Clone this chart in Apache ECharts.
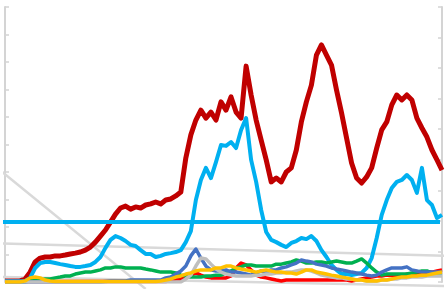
<!DOCTYPE html>
<html>
<head>
<meta charset="utf-8">
<title></title>
<style>
html,body{margin:0;padding:0;background:#fff;}
#chart{width:446px;height:289px;}
</style>
<script src="https://cdn.jsdelivr.net/npm/echarts@6/dist/echarts.min.js"></script>
</head>
<body>
<div id="chart"></div>
<script>
// 88 samples along the x axis
const days = Array.from({length: 88}, (_, i) => String(i));

const darkRed = [0.4,0.4,0.4,0.4,1.1,3.6,7.3,8.7,9.1,9.1,9.5,9.5,9.8,10.2,10.5,10.9,11.6,12.7,14.5,16.7,
  18.9,21.8,24.7,26.9,27.6,26.5,27.3,26.9,28.0,28.4,29.1,28.4,29.8,30.2,31.3,32.7,45.1,53.5,58.9,62.5,
  59.6,61.8,58.9,65.5,62.5,67.3,61.8,59.6,78.5,68.0,58.9,51.6,44.4,36.4,37.8,36.4,40.0,41.5,48.0,58.2,
  65.5,71.6,82.5,86.2,82.5,78.9,69.8,61.5,52.4,43.3,37.8,36.0,38.2,41.5,48.7,55.3,58.2,64.4,68.0,66.2,
  68.0,66.2,59.6,56.0,52.7,48.0,44.4,40.7];

const lightBlue = [0.4,0.4,0.4,0.4,0.4,1.5,5.1,6.9,7.3,7.3,6.9,6.5,6.2,5.8,5.5,5.5,5.8,6.2,7.3,9.1,
  12.4,15.3,16.7,16.0,14.9,13.5,13.1,11.6,10.2,10.2,9.1,9.5,10.2,10.5,10.9,11.6,14.5,18.5,29.8,37.1,
  41.5,37.8,43.6,49.8,49.5,50.9,48.7,55.3,59.6,44.4,36.4,26.2,18.2,15.3,14.5,13.5,12.7,14.2,14.9,16.0,
  15.6,16.7,14.9,11.6,9.1,6.2,4.4,2.9,2.9,2.5,2.9,3.3,5.1,8.7,16.0,24.4,29.8,34.2,36.4,37.1,
  38.9,37.1,32.4,41.5,29.8,28.0,23.3,24.4];

const green = [0,0,0,0,0,0.4,0.7,0.7,1.1,1.1,1.5,1.8,2.2,2.2,2.9,3.3,3.6,3.6,4.0,4.4,
  5.1,5.1,5.5,5.5,5.1,5.1,5.1,5.1,4.7,4.4,4.0,3.6,3.6,3.6,3.3,2.5,2.2,1.8,1.8,1.8,
  2.2,2.2,2.5,2.5,3.3,4.0,5.1,5.5,6.2,6.2,5.8,5.8,5.8,5.8,6.5,6.5,6.9,7.3,8.0,7.6,
  6.9,6.9,7.3,7.3,6.9,7.3,7.6,7.3,6.9,6.9,7.6,8.4,6.9,5.1,3.6,2.5,2.9,2.9,2.9,2.9,
  2.9,3.3,3.6,4.0,4.0,3.3,2.5,2.5];

const blue = [0,0,0,0,0,0,0,0,0,0,0,0,0,0,0,0,0,0,0,0,
  0.2,0.4,0.4,0.4,0.4,0.7,0.7,0.7,0.7,0.7,0.7,0.7,1.5,1.8,2.9,4.0,5.8,9.5,12.0,8.7,
  5.8,4.4,4.0,4.0,4.4,3.6,3.6,3.3,2.9,2.5,3.3,4.0,3.6,4.4,4.4,5.1,5.5,6.2,6.9,8.0,
  7.6,7.3,6.5,6.2,5.8,5.1,4.7,4.4,4.0,3.6,3.3,2.9,2.5,2.2,2.5,3.6,4.4,5.1,5.1,5.1,
  5.5,4.4,4.0,3.6,3.6,3.6,3.6,3.6];

const grey = [0,0,0,0,0,0,0,0,0,0,0,0,0,0,0,0,0,0,0,0,
  0,0,0,0,0,0,0,0,0,0,0,0,0,0,0,0,1.1,2.5,5.8,8.7,
  8.4,6.5,4.7,3.6,2.9,2.5,2.2,2.2,2.2,2.2,2.5,2.5,2.9,2.9,3.3,3.3,3.6,3.6,4.0,4.4,
  4.4,4.0,3.3,2.5,2.2,1.8,1.5,1.5,1.1,1.1,0.7,0.7,0.4,0.4,0.4,0.7,0.7,1.1,1.1,1.5,
  1.5,1.8,1.8,1.8,2.2,2.2,2.2,2.2];

const gold = [0,0,0,0,0.4,1.5,1.8,1.5,0.7,0.4,0.2,0.2,0.2,0.2,0.2,0.2,0.2,0.2,0.2,0.2,
  0.2,0.2,0.2,0.2,0.2,0.2,0.2,0.2,0.2,0.2,0.2,0.4,0.7,1.1,1.8,2.2,2.9,3.3,4.0,4.4,
  4.4,4.4,5.1,5.1,5.8,5.8,5.1,4.7,4.4,4.0,3.6,4.0,4.4,4.0,3.6,3.6,3.3,3.3,2.9,3.6,
  4.4,4.4,3.6,3.3,2.9,2.5,2.2,1.8,1.5,1.1,0.7,0.7,0.4,0.4,0.4,0.7,0.7,1.1,1.5,1.8,
  1.8,2.2,2.2,2.5,2.5,2.9,3.3,3.6];

const red = [0.2,0.2,0.2,0.2,0.2,0.2,0.2,0.2,0.2,0.2,0.2,0.2,0.2,0.2,0.2,0.2,0.2,0.2,0.2,0.2,
  0.2,0.2,0.2,0.2,0.2,0.2,0.2,0.2,0.2,0.2,0.2,0.2,0.2,0.7,1.1,1.1,1.5,2.5,3.3,2.5,
  1.8,1.5,1.5,1.5,1.5,2.2,5.1,6.9,6.2,4.4,2.5,1.8,1.5,1.1,0.7,0.4,0.7,0.7,0.7,0.7,
  0.7,0.7,0.7,0.7,0.7,0.7,0.7,0.7,0.7,0.4,0.7,1.1,1.5,1.8,2.2,2.2,2.5,2.5,2.5,2.2,
  2.9,2.9,3.3,3.3,3.6,3.6,4.0,4.4];

// reference level and light grey guide lines, [x index, value]
const level = [[-1, 21.8], [86.6, 21.8]];
const guideDiag = [[-1, 40.7], [28, -2.5]];
const guideA = [[-1, 14.0], [87.8, 9.5]];
const guideB = [[-1, 1.8], [87.8, -1.5]];

const chart = echarts.init(document.getElementById('chart'));

function lineSeries(name, data, color, width, z) {
  return {
    name: name, type: 'line', data: data, symbol: 'none', z: z,
    lineStyle: {color: color, width: width, join: 'round'},
    emphasis: {disabled: true}
  };
}
function guide(data, color, width, z) {
  return {
    type: 'line', xAxisIndex: 1, data: data, symbol: 'none', clip: false, z: z,
    lineStyle: {color: color, width: width},
    emphasis: {disabled: true}, silent: true
  };
}

const axisStyle = {
  axisLine: {show: true, lineStyle: {color: '#d4d4d4', width: 2}},
  axisTick: {show: true, inside: true, length: 4, lineStyle: {color: '#d4d4d4', width: 1.5}},
  axisLabel: {show: false},
  splitLine: {show: false}
};

chart.setOption({
  animation: false,
  grid: {left: 5, right: 4, top: 7, bottom: 7},
  xAxis: [
    {type: 'category', data: days, boundaryGap: false, show: false},
    {type: 'value', min: 0, max: 87, show: false}
  ],
  yAxis: [
    Object.assign({type: 'value', min: 0, max: 100, interval: 10, position: 'left'}, axisStyle),
    Object.assign({type: 'value', min: 0, max: 9, interval: 1, position: 'right'}, axisStyle)
  ],
  series: [
    guide(guideDiag, '#d9d9d9', 2.5, 1),
    guide(guideA, '#d9d9d9', 2.5, 1),
    guide(guideB, '#d9d9d9', 2.5, 1),
    lineSeries('darkRed', darkRed, '#c00000', 5, 2),
    lineSeries('lightBlue', lightBlue, '#00b0f0', 4, 3),
    guide(level, '#00b0f0', 4, 3),
    lineSeries('red', red, '#ff0000', 3.5, 4),
    lineSeries('green', green, '#00b050', 3.5, 5),
    lineSeries('blue', blue, '#4472c4', 3.5, 6),
    lineSeries('grey', grey, '#bfbfbf', 3.5, 7),
    lineSeries('gold', gold, '#ffc000', 3.5, 8)
  ]
});
</script>
</body>
</html>
